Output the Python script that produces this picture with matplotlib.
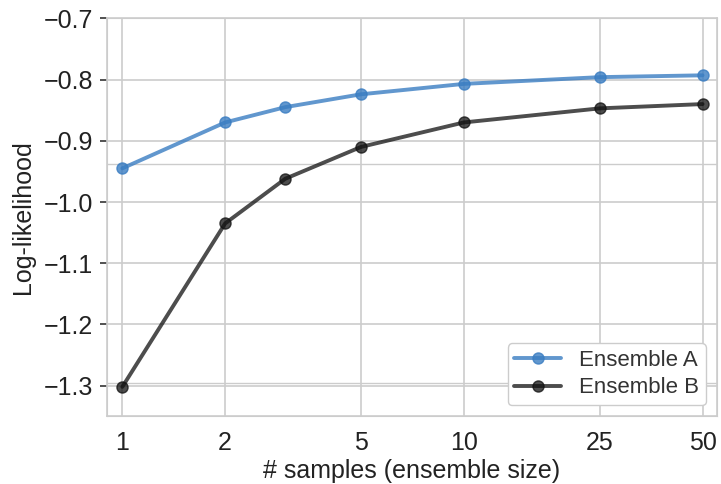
import matplotlib
matplotlib.use("Agg")
import matplotlib.pyplot as plt
import seaborn as sns

sizes = [1, 2, 3, 5, 10, 25, 50]
ens_a = [-0.945, -0.870, -0.845, -0.824, -0.807, -0.796, -0.793]
ens_b = [-1.302, -1.035, -0.962, -0.910, -0.870, -0.847, -0.840]
xticks = [1, 2, 5, 10, 25, 50]
yticks = [-1.3, -1.2, -1.1, -1.0, -0.9, -0.8, -0.7]

sns.set_style("whitegrid")
plt.rcParams['font.family'] = ['Liberation Sans', 'DejaVu Sans']

fig = plt.figure(figsize=(7.21, 4.84), dpi=100)
ax = fig.add_axes([0.148, 0.14, 0.846, 0.822])

# stray second grid (from a twin axis in the original)
ax2 = ax.twinx()
ax2.set_ylim(0, 1)
ax2.set_yticks([0.083, 0.633])
ax2.tick_params(axis='y', length=0, labelright=False)
ax2.grid(True, color='#cccccc', lw=1)
ax2.set_zorder(0)
ax.set_zorder(1)
ax.patch.set_visible(False)

ax.plot(sizes, ens_a, '-o', color='#3a7dc2', alpha=0.8, lw=2.8, ms=8, label='Ensemble A')
ax.plot(sizes, ens_b, '-o', color='#111111', alpha=0.75, lw=2.8, ms=8, label='Ensemble B')

ax.set_xscale('log')
ax.set_xlim(0.9, 55)
ax.set_xticks(xticks)
ax.set_xticklabels([str(x) for x in xticks])
ax.minorticks_off()
ax.set_ylim(-1.35, -0.7)
ax.set_yticks(yticks)
ax.set_yticklabels(['\u2212%.1f' % abs(y) for y in yticks])
ax.tick_params(axis='y', left=True, length=5, width=1.2, color='#333333', labelsize=18, pad=5)
ax.tick_params(axis='x', labelsize=18, pad=7)
ax.grid(True, color='#cccccc', lw=1.2)
for s in ax.spines.values():
    s.set_color('#cccccc')
    s.set_linewidth(1.2)

ax.set_xlabel('# samples (ensemble size)', fontsize=18, color='#222222', labelpad=3)
ax.set_ylabel('Log-likelihood', fontsize=18, color='#222222', labelpad=6)
ax.tick_params(colors='#222222')
ax.tick_params(axis='y', color='#333333')

leg = ax.legend(loc='lower right', fontsize=16, frameon=True, edgecolor='#cccccc',
                handlelength=2.1, handletextpad=0.8, borderpad=0.3, labelspacing=0.3,
                framealpha=1)
for t in leg.get_texts():
    t.set_color('#333333')

fig.savefig('out.png', dpi=100)
